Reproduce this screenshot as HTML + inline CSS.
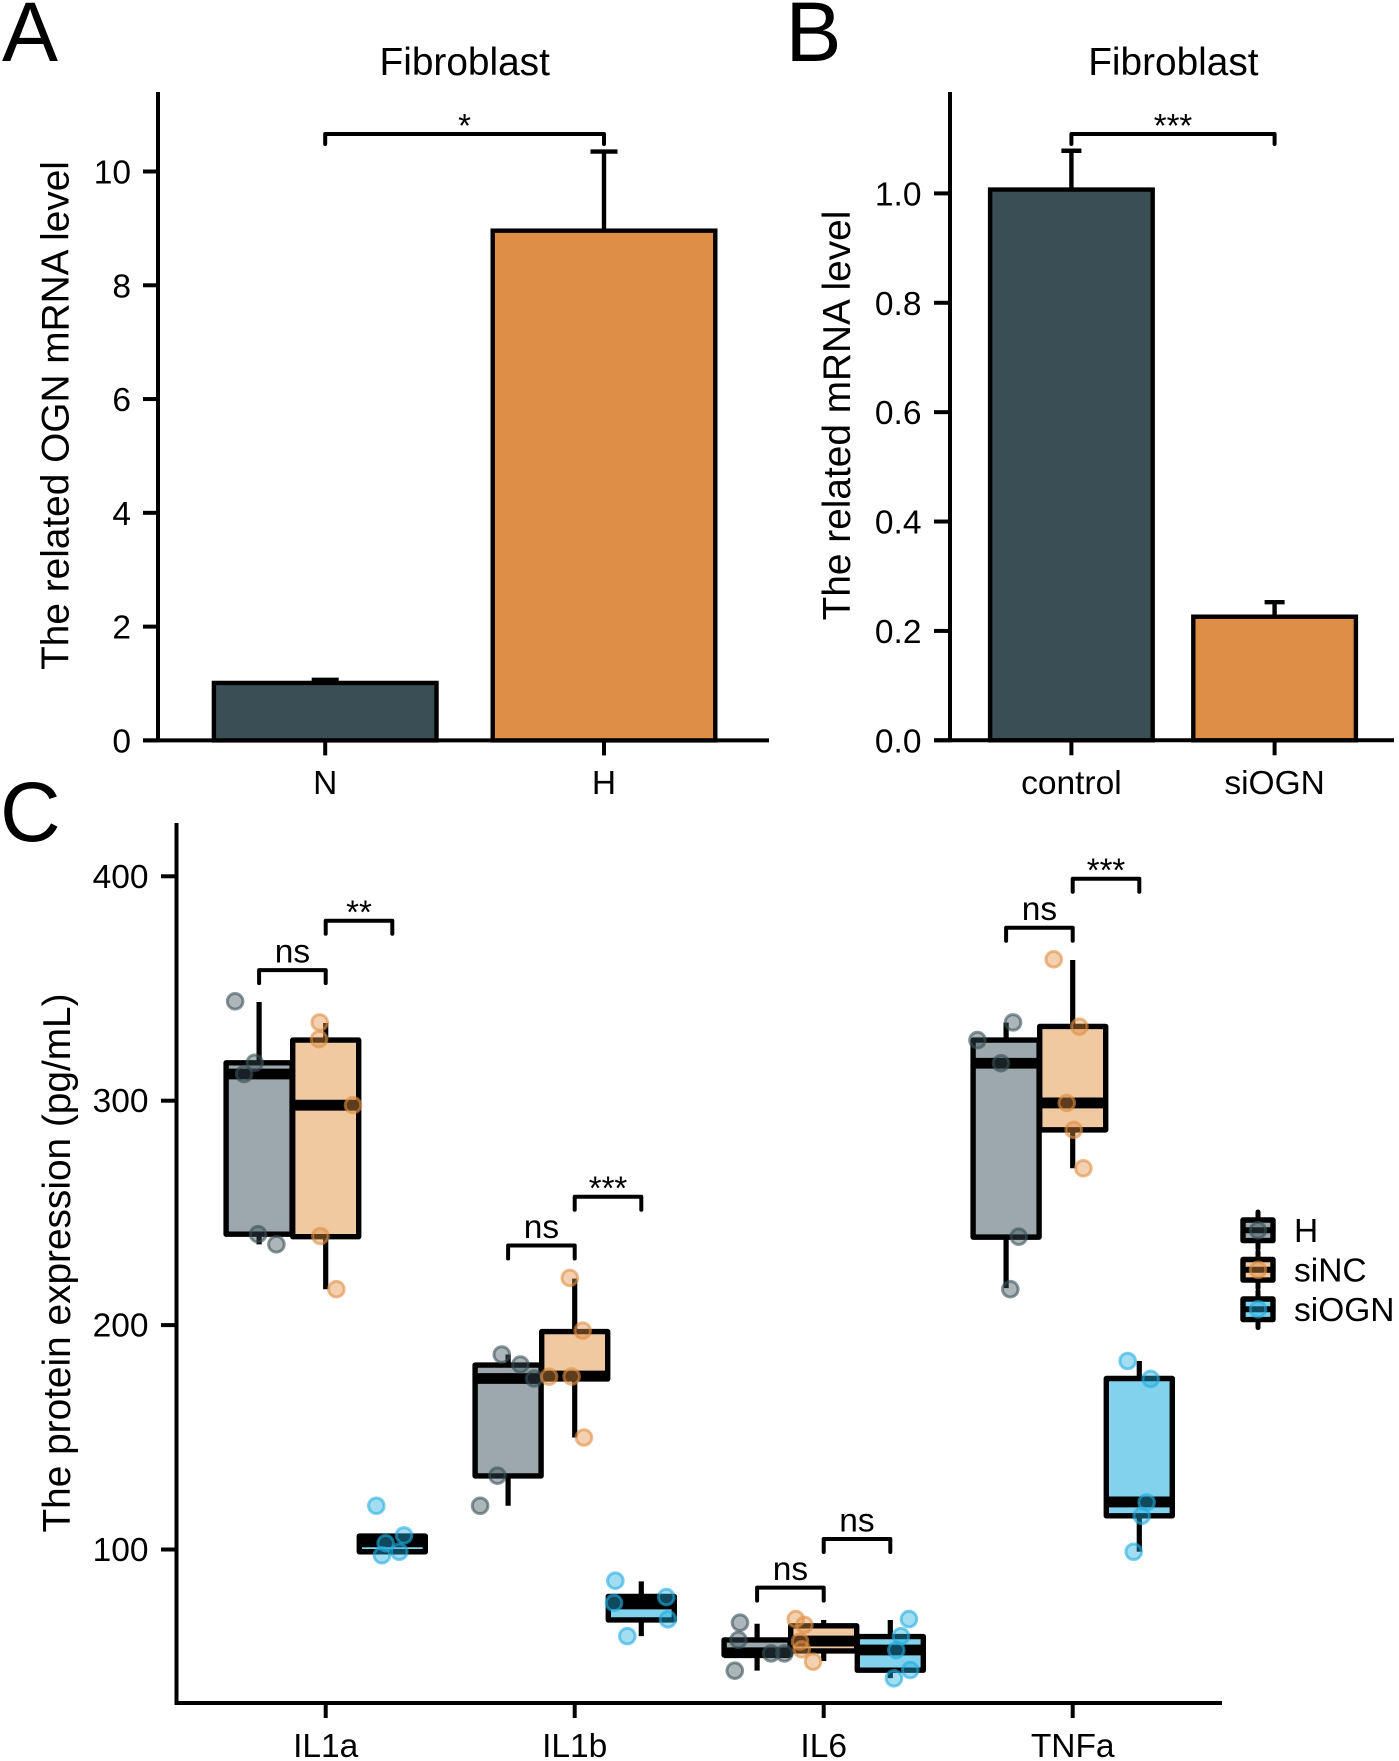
<!DOCTYPE html>
<html lang="en">
<head>
<meta charset="utf-8">
<title>Fibroblast mRNA and protein expression</title>
<style>
html,body{margin:0;padding:0;background:#fff;}
svg{display:block;}
text{font-family:"Liberation Sans",Arial,sans-serif;fill:#000;}
</style>
</head>
<body>
<svg id="fig" xmlns="http://www.w3.org/2000/svg" width="1399" height="1761" viewBox="0 0 1399 1761">
<rect width="1399" height="1761" fill="#fff"/>
<text x="2" y="61" font-size="84">A</text>
<text x="785.5" y="61" font-size="84">B</text>
<text x="0" y="841" font-size="84">C</text>
<text x="464.7" y="75" font-size="38.8" text-anchor="middle">Fibroblast</text>
<text x="1173.4" y="75" font-size="38.8" text-anchor="middle">Fibroblast</text>
<text transform="translate(68.5,415.5) rotate(-90)" font-size="38.8" text-anchor="middle">The related OGN mRNA level</text>
<text transform="translate(850,415.5) rotate(-90)" font-size="38.8" text-anchor="middle">The related mRNA level</text>
<text transform="translate(70,1263) rotate(-90)" font-size="38.8" text-anchor="middle">The protein expression (pg/mL)</text>
<g id="panelA"></g>
<g id="panelB"></g>
<g id="panelC"></g>
<g id="legend"></g>
</svg>
<script>
// Panel A data
const aCategories = ["N", "H"];
const aMeans = [1.01, 8.96];
const aErrorTops = [1.065, 10.35];
const aTicks = [0, 2, 4, 6, 8, 10];
const aSignificance = "*";
const aBracketValue = 10.66;
// Panel B data
const bCategories = ["control", "siOGN"];
const bMeans = [1.007, 0.226];
const bErrorTops = [1.078, 0.2525];
const bTicks = [0, 0.2, 0.4, 0.6, 0.8, 1.0];
const bSignificance = "***";
const bBracketValue = 1.1086;
// Panel C data
const cCategories = ["IL1a", "IL1b", "IL6", "TNFa"];
const cTicks = [100, 200, 300, 400];
const seriesNames = ["H", "siNC", "siOGN"];
const hQ3 = [316.9, 182.2, 59.7, 327];
const hMedian = [311.9, 176.2, 54, 316.7];
const hQ1 = [240.5, 132.8, 53, 239.2];
const hWhiskerHigh = [344, 186.9, 66.9, 334.8];
const hWhiskerLow = [236, 119.5, 46, 216.5];
const siNCQ3 = [327, 197.1, 66, 333.1];
const siNCMedian = [298, 177.3, 59.2, 299];
const siNCQ1 = [239.4, 176, 54.8, 287];
const siNCWhiskerHigh = [334.6, 220.7, 68.6, 362.7];
const siNCWhiskerLow = [216, 149.9, 50.3, 269.9];
const siOGNQ3 = [106, 79.1, 61.2, 176.2];
const siOGNMedian = [103.4, 75.7, 55.2, 121.2];
const siOGNQ1 = [99, 68.6, 46.2, 115];
const siOGNWhiskerHigh = [106.3, 85.8, 68.6, 184];
const siOGNWhiskerLow = [99, 61.4, 42.7, 99];
const hPoints = [[344.3,316.9,311.9,240.5,236],[186.9,182.4,176.2,132.9,119.5],[67.4,59.7,53.7,53.7,46],[334.9,327,316.7,239.4,216]];
const siNCPoints = [[334.9,327.4,298,239.7,216],[221,197.5,177,177.1,149.9],[69,66.4,59,55.5,50],[363,333,299,287,269.9]];
const siOGNPoints = [[119.5,106.3,102.8,99,97.4],[86.1,78.8,76.2,68.9,61.4],[69,61.4,55.2,46.3,42.6],[184,176,121,115,99]];
const hJitter = [[-.36,-.065,-.225,-.015,.26],[-.095,.185,.39,-.16,-.42],[-.257,-.28,.21,.41,-.335],[.104,-.43,-.077,.19,.063]];
const siNCJitter = [[-.09,-.1,.41,-.08,.16],[-.074,.12,-.384,-.046,.138],[-.42,-.29,-.355,-.33,-.16],[-.285,.1,-.09,.015,.16]];
const siOGNJitter = [[-.24,.176,-.1,.105,-.155],[-.39,.375,-.41,.4,-.21],[.28,.16,.09,.3,.055],[-.175,.17,.11,.036,-.084]];
const hVsSiNCLabels = ["ns", "ns", "ns", "ns"];
const hVsSiNCBrackets = [358.2, 235.5, 83, 377.1];
const siNCVsSiOGNLabels = ["**", "***", "ns", "***"];
const siNCVsSiOGNBrackets = [380.2, 257.2, 104.7, 398.9];

const NS = "http://www.w3.org/2000/svg";
const BLACK = "#000";
const barColors = ["#3a4f55", "#de8f45"];
const boxFills = ["#9ca8ab", "#f0c9a0", "#82d2ee"];
const pointColors = ["#3a5058", "#e08f42", "#23aee0"];

function mk(parent, tag, attrs, txt) {
  const el = document.createElementNS(NS, tag);
  for (const k in attrs) el.setAttribute(k, attrs[k]);
  if (txt !== undefined) el.textContent = txt;
  parent.appendChild(el);
  return el;
}
function line(parent, x1, y1, x2, y2, w, cap) {
  return mk(parent, "line", {x1: x1, y1: y1, x2: x2, y2: y2, stroke: BLACK, "stroke-width": w, "stroke-linecap": cap || "butt"});
}
function label(parent, x, y, size, anchor, txt) {
  return mk(parent, "text", {x: x, y: y, "font-size": size, "text-anchor": anchor}, txt);
}
function bracket(parent, x1, x2, y, drop) {
  return mk(parent, "path", {d: "M" + x1 + " " + (y + drop) + "V" + y + "H" + x2 + "V" + (y + drop), fill: "none", stroke: BLACK, "stroke-width": 4, "stroke-linecap": "round", "stroke-linejoin": "round"});
}

// scales
const yA = v => 740.4 - 56.89 * v;
const xA = i => 325.2 + 278.8 * i;
const yB = v => 740.3 - 546.9 * v;
const xB = i => 1071.4 + 203.2 * i;
const yC = v => 876.3 + (400 - v) * 2.244;
const xC = i => 325.7 + 249 * i;
const SLOT = 66.6;
const xDodge = (cat, s) => xC(cat) + (s - 1) * SLOT;

function barPanel(g, p) {
  let el;
  const base = p.y(0);
  el = line(g, p.axisX, 92, p.axisX, base + 1.9, 4);
  
  
  el = line(g, p.tickLeft, base, p.axisEnd, base, 4);
  
  
  p.ticks.forEach(t => {
    el = line(g, p.tickLeft, p.y(t), p.axisX, p.y(t), 4);
    
    
    el = label(g, p.labelRight, p.y(t) + 12, 33.5, "end", p.fmt(t));
    
    
  });
  p.cats.forEach((c, i) => {
    const cx = p.x(i);
    el = line(g, cx, p.y(p.err[i]), cx, p.y(p.means[i]), 4.4);
    
    
    el = line(g, cx - p.cap, p.y(p.err[i]), cx + p.cap, p.y(p.err[i]), 4.4);
    
    
    el = mk(g, "rect", {x: cx - p.half, y: p.y(p.means[i]), width: 2 * p.half, height: base - p.y(p.means[i]), fill: barColors[i], stroke: BLACK, "stroke-width": 4.4});
    
    
    el = line(g, cx, base, cx, base + 15, 4);
    
    
    el = label(g, cx, 794, 33.5, "middle", c);
    
    
  });
  const by = p.y(p.bracket);
  el = bracket(g, p.x(0), p.x(1), by, 10);
  
  
  el = label(g, (p.x(0) + p.x(1)) / 2, by + 2.8, 33, "middle", p.sig);
  
  
}

barPanel(document.getElementById("panelA"), {
  y: yA, x: xA, cats: aCategories, means: aMeans, err: aErrorTops, ticks: aTicks,
  fmt: t => String(t), axisX: 158, tickLeft: 143, axisEnd: 769, labelRight: 131,
  half: 111.3, cap: 13.5, bracket: aBracketValue, sig: aSignificance
});
barPanel(document.getElementById("panelB"), {
  y: yB, x: xB, cats: bCategories, means: bMeans, err: bErrorTops, ticks: bTicks,
  fmt: t => t.toFixed(1), axisX: 950, tickLeft: 934, axisEnd: 1394, labelRight: 921.5,
  half: 81.3, cap: 10, bracket: bBracketValue, sig: bSignificance
});

// Panel C
const gC = document.getElementById("panelC");
const stats = [
  {q3: hQ3, med: hMedian, q1: hQ1, hi: hWhiskerHigh, lo: hWhiskerLow, pts: hPoints, jit: hJitter},
  {q3: siNCQ3, med: siNCMedian, q1: siNCQ1, hi: siNCWhiskerHigh, lo: siNCWhiskerLow, pts: siNCPoints, jit: siNCJitter},
  {q3: siOGNQ3, med: siOGNMedian, q1: siOGNQ1, hi: siOGNWhiskerHigh, lo: siOGNWhiskerLow, pts: siOGNPoints, jit: siOGNJitter}
];
let elC;
elC = line(gC, 176.5, 823, 176.5, 1704.9, 4);


elC = line(gC, 174.5, 1703, 1222, 1703, 4);


cTicks.forEach(t => {
  elC = line(gC, 161, yC(t), 176.5, yC(t), 4);
  
  
  elC = label(gC, 148.5, yC(t) + 11.5, 33.5, "end", String(t));
  
  
});
cCategories.forEach((c, i) => {
  elC = line(gC, xC(i), 1703, xC(i), 1718, 4);
  
  
  elC = label(gC, xC(i), 1757, 33.5, "middle", c);
  
  
});
// boxes first, points afterwards
cCategories.forEach((c, i) => {
  stats.forEach((st, s) => {
    const cx = xDodge(i, s);
    elC = line(gC, cx, yC(st.hi[i]), cx, yC(st.lo[i]), 5.2);
    
    
    elC = mk(gC, "rect", {x: cx - 33, y: yC(st.q3[i]), width: 66, height: yC(st.q1[i]) - yC(st.q3[i]), fill: boxFills[s], stroke: BLACK, "stroke-width": 5.4, "stroke-linejoin": "round"});
    
    
    elC = line(gC, cx - 33, yC(st.med[i]), cx + 33, yC(st.med[i]), 10.8);
    
    
  });
});
cCategories.forEach((c, i) => {
  stats.forEach((st, s) => {
    st.pts[i].forEach((v, k) => {
      elC = mk(gC, "circle", {cx: xDodge(i, s) + st.jit[i][k] * SLOT, cy: yC(v), r: 7.8, fill: pointColors[s], "fill-opacity": 0.42, stroke: pointColors[s], "stroke-opacity": 0.6, "stroke-width": 3});
      
      
    });
  });
});
cCategories.forEach((c, i) => {
  const y1 = yC(hVsSiNCBrackets[i]);
  elC = bracket(gC, xDodge(i, 0), xDodge(i, 1), y1, 13);
  
  
  elC = label(gC, (xDodge(i, 0) + xDodge(i, 1)) / 2, y1 - 7.5, 33.5, "middle", hVsSiNCLabels[i]);
  
  
  const y2 = yC(siNCVsSiOGNBrackets[i]);
  const txt = siNCVsSiOGNLabels[i];
  elC = bracket(gC, xDodge(i, 1), xDodge(i, 2), y2, 13);
  
  
  elC = txt === "ns"
    ? label(gC, (xDodge(i, 1) + xDodge(i, 2)) / 2, y2 - 7.5, 33.5, "middle", txt)
    : label(gC, (xDodge(i, 1) + xDodge(i, 2)) / 2, y2 + 2.8, 33, "middle", txt);
  
  
});

// Legend
const gL = document.getElementById("legend");
seriesNames.forEach((name, s) => {
  const cy = 1230.3 + 39.5 * s;
  let el;
  el = line(gL, 1258, cy - 18.3, 1258, cy + 18.3, 5, "round");
  
  
  el = mk(gL, "rect", {x: 1243, y: cy - 10.3, width: 30, height: 20.6, fill: boxFills[s], stroke: BLACK, "stroke-width": 5.4, "stroke-linejoin": "round"});
  
  
  el = line(gL, 1243, cy, 1273, cy, 6);
  
  
  el = mk(gL, "circle", {cx: 1258, cy: cy, r: 7.8, fill: pointColors[s], "fill-opacity": 0.42, stroke: pointColors[s], "stroke-opacity": 0.6, "stroke-width": 3});
  
  
  el = label(gL, 1294, cy + 11.6, 33.5, "start", name);
  
  
});
</script>
</body>
</html>
